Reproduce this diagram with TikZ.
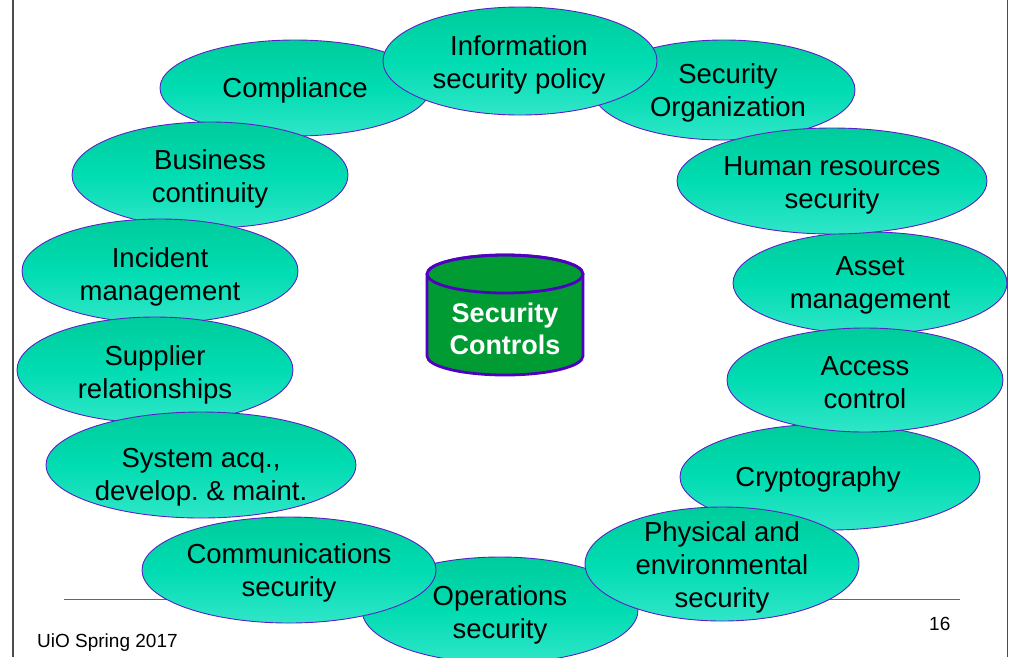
\documentclass[tikz,border=0pt]{standalone}
\usepackage{fontspec}
\setmainfont{Liberation Sans}
\frenchspacing
\definecolor{elltop}{RGB}{0,204,156}
\definecolor{ellmid}{RGB}{0,220,178}
\definecolor{ellbot}{RGB}{48,230,200}
\definecolor{ellline}{RGB}{90,30,200}
\definecolor{cylfill}{RGB}{0,155,50}
\definecolor{cylline}{RGB}{80,0,190}
\definecolor{rulecol}{RGB}{120,70,220}
\tikzset{
  ellshape/.style={draw=ellline, line width=0.9pt, top color=elltop, bottom color=ellbot, middle color=ellmid},
  lab/.style={inner sep=0pt, align=center, yshift=-2.5pt, font=\fontsize{27.5}{33}\selectfont, text=black},
  cyltext/.style={inner sep=0pt, align=center, font=\fontsize{27}{32}\selectfont\bfseries, text=white},
  foot/.style={inner sep=0pt, anchor=base west, font=\fontsize{19}{22}\selectfont},
}
\newcommand{\myell}[7]{%
  \path[ellshape] (#2,#3) ellipse [x radius=#4pt, y radius=#5pt];
  \node[lab] (#1) at #6 {#7};}
\begin{document}
\begin{tikzpicture}[x=1pt,y=-1pt]
\useasboundingbox (0,0) rectangle (1009,657);
% frame lines
\draw[gray!60!black, line width=1.3pt] (13,0) -- (13,657);
\draw[gray!60!black, line width=1.3pt] (1007.5,0) -- (1007.5,657);
\draw[rulecol, line width=1pt] (64,599) -- (960,599);
% ellipses (back to front)
\myell{ops}{500}{610}{138}{53}{(500,612)}{Operations\\security}
\myell{crypto}{830}{477}{150}{53}{(818,477)}{Cryptography}
\myell{asset}{870}{283}{137}{51}{(870,283)}{Asset\\management}
\myell{comp}{295}{88}{135}{48}{(295,88)}{Compliance}
\myell{secorg}{724}{90}{131}{50}{(728,90)}{Security\\Organization}
\myell{isp}{520}{61}{137}{54}{(519,62)}{Information\\security policy}
\myell{bc}{210}{175}{138}{53}{(210,176)}{Business\\continuity}
\myell{im}{160}{271}{138}{52}{(160,274)}{Incident\\management}
\myell{sr}{155}{370}{138}{53}{(155,372)}{Supplier\\relationships}
\myell{sys}{201}{465}{155}{53}{(201,475)}{System acq.,\\develop. \& maint.}
\myell{comm}{289}{570}{147}{53}{(289,570)}{Communications\\security}
\myell{hr}{832}{181}{155}{53}{(832,183)}{Human resources\\security}
\myell{ac}{865}{380}{138}{52}{(865,380)}{Access\\control}
\myell{phys}{722}{564}{137}{57}{(722,565)}{Physical and\\environmental\\security}
% cylinder
\path[fill=cylfill, draw=cylline, line width=2.8pt]
  (427,274) -- (427,356) arc[start angle=180, end angle=360, x radius=78pt, y radius=19pt]
  -- (583,274) arc[start angle=0, end angle=180, x radius=78pt, y radius=19pt] -- cycle;
\draw[cylline, line width=2.8pt] (505,274) ellipse [x radius=78pt, y radius=19pt];
\node[cyltext] (ctrl) at (505,329) {Security\\Controls};
% footer
\node[foot] (uio) at (37,647) {UiO Spring 2017};
\node[foot] (page) at (929,630) {16};
\end{tikzpicture}
\end{document}
